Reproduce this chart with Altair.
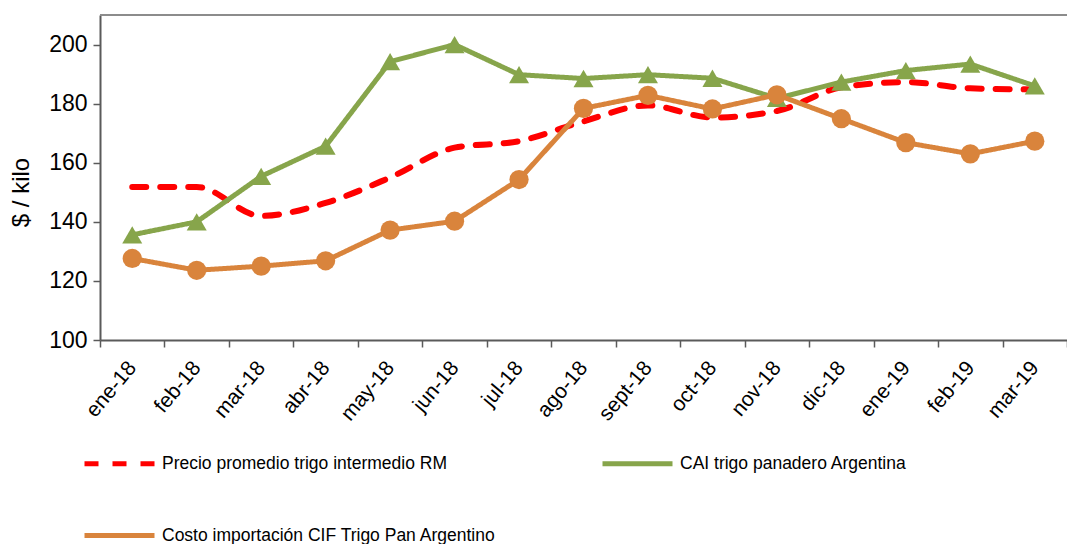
import altair as alt
import pandas as pd

months = ["ene-18", "feb-18", "mar-18", "abr-18", "may-18", "jun-18", "jul-18",
          "ago-18", "sept-18", "oct-18", "nov-18", "dic-18", "ene-19", "feb-19", "mar-19"]
precio = [151.8, 151.8, 142.0, 146.4, 155.0, 165.1, 167.3, 174.0, 179.4, 175.3,
          177.5, 185.5, 187.3, 185.2, 184.8]
cai = [135.6, 140.0, 155.4, 165.6, 194.2, 200.0, 189.8, 188.5, 189.8, 188.6,
       181.8, 187.3, 191.2, 193.4, 186.0]
costo = [127.6, 123.6, 125.0, 126.8, 137.2, 140.2, 154.3, 178.4, 182.8, 178.2,
         183.0, 174.9, 166.8, 163.0, 167.3]

s_precio = "Precio promedio trigo intermedio RM"
s_cai = "CAI trigo panadero Argentina"
s_costo = "Costo importación CIF Trigo Pan Argentino"
# legend is laid out column-major: first column Precio / Costo, second column CAI
series = [s_precio, s_costo, s_cai]
colors = ["#ff0000", "#d9843c", "#87a54b"]
dashes = [[14, 14], [1, 0], [1, 0]]

rows = []
for name, vals in [(s_precio, precio), (s_cai, cai), (s_costo, costo)]:
    for m, v in zip(months, vals):
        rows.append({"mes": m, "serie": name, "valor": v})
df = pd.DataFrame(rows)

FONT = "Liberation Sans"
AXC = "#5a5a5a"

x_enc = alt.X("mes:N", sort=months,
              scale=alt.Scale(type="band", paddingInner=0, paddingOuter=0),
              axis=alt.Axis(title=None, labelAngle=-50, labelAlign="right",
                            labelBaseline="middle", labelFontSize=21,
                            labelPadding=17, tickBand="extent", tickSize=7,
                            labelColor="black", labelFont=FONT,
                            domainColor=AXC, tickColor=AXC,
                            domainWidth=2, tickWidth=1.5))
y_enc = alt.Y("valor:Q", scale=alt.Scale(domain=[100, 210], nice=False, zero=False),
              axis=alt.Axis(title="$ / kilo", values=[100, 120, 140, 160, 180, 200],
                            labelFontSize=23, labelColor="black", labelFont=FONT,
                            titleFontSize=24, titleFontWeight="normal", titleFont=FONT,
                            titleColor="black", titleX=-79, titleY=177,
                            titleAngle=-90, titleAlign="center", titleBaseline="middle",
                            tickSize=7, labelPadding=6, grid=False,
                            domainColor=AXC, tickColor=AXC,
                            domainWidth=2, tickWidth=1.5))

color_scale = alt.Scale(domain=series, range=colors)
dash_scale = alt.Scale(domain=series, range=dashes)

base = alt.Chart(df)

red_line = base.transform_filter(alt.datum.serie == s_precio).mark_line(
    strokeWidth=6, strokeCap="round", interpolate="monotone"
).encode(
    x=x_enc, y=y_enc,
    color=alt.Color("serie:N", scale=color_scale,
                    legend=alt.Legend(title=None, orient="none", legendX=-18, legendY=411,
                                      columns=2, columnPadding=96, rowPadding=24,
                                      symbolType="stroke", symbolSize=4900,
                                      symbolStrokeWidth=5, labelFontSize=17.5,
                                      labelFont=FONT, labelColor="black",
                                      labelLimit=0, labelOffset=5, padding=0)),
    strokeDash=alt.StrokeDash("serie:N", scale=dash_scale, legend=alt.Legend(title=None)),
)

solid_lines = base.transform_filter(alt.datum.serie == s_cai).mark_line(
    strokeWidth=5
).encode(
    x=x_enc, y=y_enc,
    color=alt.Color("serie:N", scale=color_scale),
    strokeDash=alt.StrokeDash("serie:N", scale=dash_scale),
)

tri = base.transform_filter(alt.datum.serie == s_cai).mark_point(
    shape="triangle-up", filled=True, size=400, opacity=1, color="#87a54b"
).encode(x=x_enc, y=y_enc)

orange_line = base.transform_filter(alt.datum.serie == s_costo).mark_line(
    strokeWidth=5
).encode(
    x=x_enc, y=y_enc,
    color=alt.Color("serie:N", scale=color_scale),
    strokeDash=alt.StrokeDash("serie:N", scale=dash_scale),
)

circ = base.transform_filter(alt.datum.serie == s_costo).mark_point(
    shape="circle", filled=True, size=370, opacity=1, color="#d9843c"
).encode(x=x_enc, y=y_enc)

top_line = alt.Chart(pd.DataFrame({"valor": [210]})).mark_rule(
    color="#8c8c8c", strokeWidth=2
).encode(y=alt.Y("valor:Q"))

chart = alt.layer(red_line, solid_lines, tri, orange_line, circ, top_line).properties(
    width=967, height=325,
    autosize=alt.AutoSizeParams(type="none"),
    padding={"left": 92, "top": 7, "right": 0, "bottom": 204},
).configure_view(stroke=None).configure(background="white")

chart.save("out.html", embed_options={"renderer": "svg", "actions": False})
